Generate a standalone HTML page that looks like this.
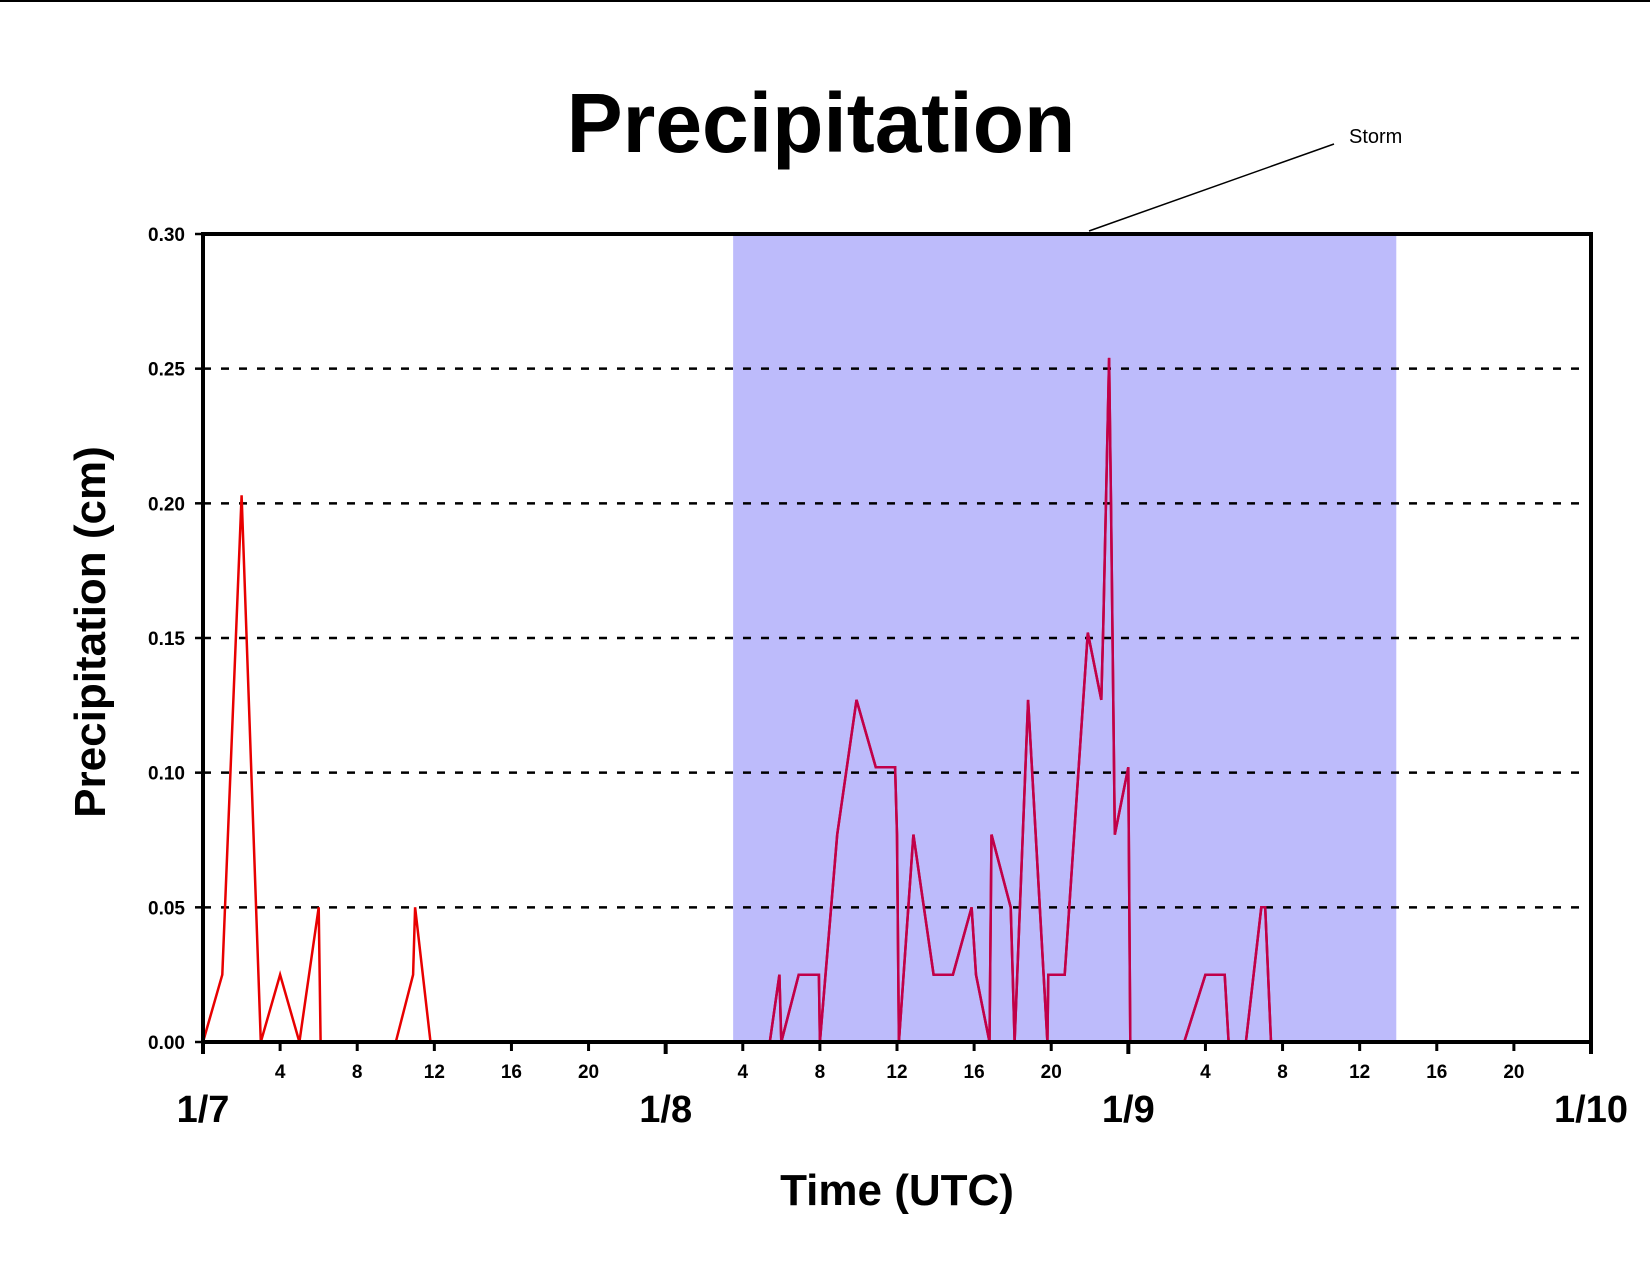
<!DOCTYPE html>
<html><head><meta charset="utf-8"><style>
html,body{margin:0;padding:0;background:#fff}
svg{display:block;font-family:"Liberation Sans",Arial,sans-serif}
</style></head><body>
<svg id="chart" width="1650" height="1275" viewBox="0 0 1650 1275" xmlns="http://www.w3.org/2000/svg">
<line x1="0" y1="1" x2="1650" y2="1" stroke="#000" stroke-width="2"/>
<text x="821" y="152" text-anchor="middle" font-size="84" font-weight="bold">Precipitation</text>
<g id="plot"></g>
<text transform="translate(105,632) rotate(-90)" text-anchor="middle" font-size="44" font-weight="bold">Precipitation (cm)</text>
<text x="897" y="1205" text-anchor="middle" font-size="44" font-weight="bold">Time (UTC)</text>
<text x="1349" y="143" font-size="20">Storm</text>
<line x1="1334" y1="144" x2="1089" y2="231" stroke="#000" stroke-width="1.5"/>
</svg>
<script>
const hours=[0,1,2,3,4,5,6,6.1,10,10.9,11,11.8,29.4,29.9,30.0,30.9,31.95,32.0,32.9,33.9,34.9,35.9,36.0,36.1,36.85,37.9,38.9,39.87,40.1,40.8,40.9,41.9,42.0,42.1,42.8,43.8,43.85,44.7,45.9,46.6,46.7,47.0,47.1,47.3,48.0,48.1,50.9,52.0,53.0,53.2,54.1,54.9,55.1,55.4,72];
const precip=[0,0.025,0.203,0,0.025,0,0.05,0,0,0.025,0.05,0,0,0.025,0,0.025,0.025,0,0.077,0.127,0.102,0.102,0.077,0,0.077,0.025,0.025,0.05,0.025,0,0.077,0.05,0.025,0,0.127,0,0.025,0.025,0.152,0.127,0.155,0.254,0.2,0.077,0.102,0,0,0.025,0.025,0,0,0.05,0.05,0,0];
const yTicks=[0,0.05,0.10,0.15,0.20,0.25,0.30];
const yTickLabels=["0.00","0.05","0.10","0.15","0.20","0.25","0.30"];
const hourTicks=[4,8,12,16,20,28,32,36,40,44,52,56,60,64,68];
const hourTickLabels=["4","8","12","16","20","4","8","12","16","20","4","8","12","16","20"];
const dayTicks=[0,24,48,72];
const dayLabels=["1/7","1/8","1/9","1/10"];
const stormRange=[27.5,61.9];

const L=203,R=1591,T=234,B=1042,HMAX=72,YMAX=0.30;
const xs=h=>L+(R-L)*h/HMAX;
const ys=v=>B-(B-T)*v/YMAX;
const NS="http://www.w3.org/2000/svg";
const g=document.getElementById('plot');
function mk(tag,attrs){const e=document.createElementNS(NS,tag);for(const k in attrs)e.setAttribute(k,attrs[k]);g.appendChild(e);return e;}

const defs=mk('defs',{});
const cp=document.createElementNS(NS,'clipPath');cp.setAttribute('id','stormclip');
const cr=document.createElementNS(NS,'rect');
cr.setAttribute('x',xs(stormRange[0]));cr.setAttribute('y',T);cr.setAttribute('width',xs(stormRange[1])-xs(stormRange[0]));cr.setAttribute('height',B-T);
cp.appendChild(cr);defs.appendChild(cp);

const shade=mk('rect',{x:xs(stormRange[0]),y:T,width:xs(stormRange[1])-xs(stormRange[0]),height:B-T,fill:'#bdbbfb'});



yTicks.forEach((v,i)=>{
  if(v>0&&v<YMAX){
    const gl=mk('line',{x1:L,x2:R,y1:ys(v),y2:ys(v),stroke:'#000','stroke-width':2.5,'stroke-dasharray':'8 10'});
    
    
  }
  const tk=mk('line',{x1:L-8,x2:L,y1:ys(v),y2:ys(v),stroke:'#000','stroke-width':2.5});
  
  
  const t=mk('text',{x:L-18,y:ys(v)+7,'text-anchor':'end','font-size':19,'font-weight':'bold'});
  t.textContent=yTickLabels[i];
  
  
});

const pts=hours.map((h,i)=>xs(h).toFixed(1)+','+ys(precip[i]).toFixed(1)).join(' ');
const l1=mk('polyline',{points:pts,fill:'none',stroke:'#e80000','stroke-width':2.5,'stroke-linejoin':'miter'});


const l2=mk('polyline',{points:pts,fill:'none',stroke:'#c0004a','stroke-width':2.5,'clip-path':'url(#stormclip)'});



const fr=mk('rect',{x:L,y:T,width:R-L,height:B-T,fill:'none',stroke:'#000','stroke-width':4});



hourTicks.forEach((h,i)=>{
  const tk=mk('line',{x1:xs(h),x2:xs(h),y1:B,y2:B+9,stroke:'#000','stroke-width':3});
  
  
  const t=mk('text',{x:xs(h),y:B+36,'text-anchor':'middle','font-size':19,'font-weight':'bold'});
  t.textContent=hourTickLabels[i];
  
  
});
dayTicks.forEach((h,i)=>{
  const tk=mk('line',{x1:xs(h),x2:xs(h),y1:B,y2:B+12,stroke:'#000','stroke-width':4});
  
  
  const t=mk('text',{x:xs(h),y:B+80,'text-anchor':'middle','font-size':38,'font-weight':'bold'});
  t.textContent=dayLabels[i];
  
  
});
</script>
</body></html>
